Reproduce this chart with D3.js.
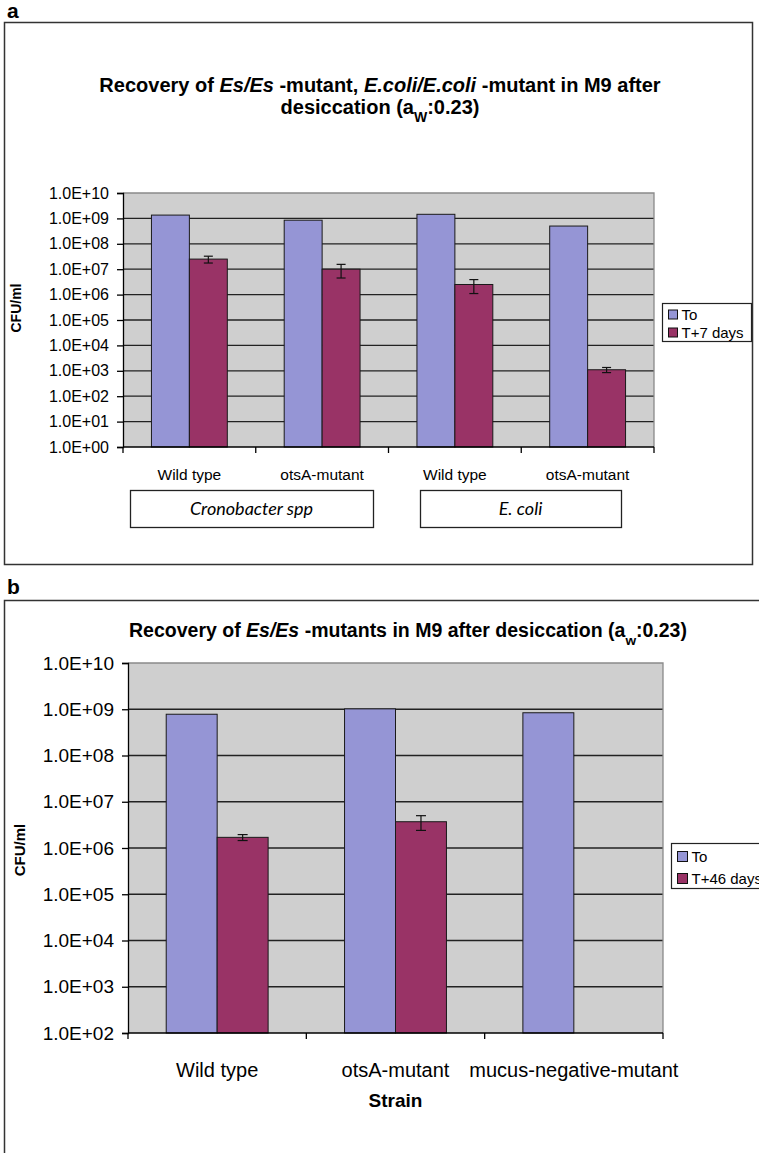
<!DOCTYPE html>
<html>
<head>
<meta charset="utf-8">
<script src="https://cdn.jsdelivr.net/npm/d3@7"></script>
<style>
  body { margin: 0; background: #fff; }
  svg { display: block; }
  text { font-family: "Liberation Sans", Arial, sans-serif; fill: #000; }
</style>
</head>
<body>
<svg id="fig" width="759" height="1153"></svg>
<script>
// ---- Panel a: Es/Es and E. coli strains, M9, 7 days ----
const strainsA = ["Wild type", "otsA-mutant", "Wild type ", "otsA-mutant "];
const seriesA = ["To", "T+7 days"];
const t0A = [1.35e9, 8.5e8, 1.45e9, 5.0e8];
const t7A = [2.5e7, 1.0e7, 2.5e6, 1.1e3];
const t7ErrA = [7.5e6, 5.5e6, 1.4e6, 2.5e2];
const groupsA = ["Cronobacter spp", "E. coli"];
const tickValsA = [1e0, 1e1, 1e2, 1e3, 1e4, 1e5, 1e6, 1e7, 1e8, 1e9, 1e10];
const tickLabelsA = ["1.0E+00", "1.0E+01", "1.0E+02", "1.0E+03", "1.0E+04", "1.0E+05",
                     "1.0E+06", "1.0E+07", "1.0E+08", "1.0E+09", "1.0E+10"];

// ---- Panel b: Es/Es mutants, M9, 46 days ----
const strainsB = ["Wild type", "otsA-mutant", "mucus-negative-mutant"];
const seriesB = ["To", "T+46 days"];
const t0B = [7.8e8, 1.02e9, 8.4e8];
const t46B = [1.7e6, 3.7e6, null];
const t46ErrB = [2.5e5, 1.3e6, null];
const tickValsB = [1e2, 1e3, 1e4, 1e5, 1e6, 1e7, 1e8, 1e9, 1e10];
const tickLabelsB = ["1.0E+02", "1.0E+03", "1.0E+04", "1.0E+05", "1.0E+06",
                     "1.0E+07", "1.0E+08", "1.0E+09", "1.0E+10"];

const COL_T0 = "#9595d5";
const COL_T1 = "#993366";
const PLOT_BG = "#cfcfcf";

const svg = d3.select("#fig");

function drawPanel(o) {
  const g = svg.append("g");

  // panel letter and frame
  g.append("text").attr("x", o.letterX).attr("y", o.letterY)
    .attr("font-size", 21).attr("font-weight", "bold").text(o.letter);
  g.append("rect").attr("x", o.frame[0]).attr("y", o.frame[1])
    .attr("width", o.frame[2]).attr("height", o.frame[3])
    .attr("fill", "none").attr("stroke", "#333").attr("stroke-width", 1.5);

  // title (with italic species names and subscript)
  o.titleLines.forEach((parts, i) => {
    const t = g.append("text").attr("x", o.titleX).attr("y", o.titleY + i * o.titleGap)
      .attr("text-anchor", "middle").attr("font-size", o.titleSize).attr("font-weight", "bold");
    parts.forEach(p => {
      const s = t.append("tspan").text(p.t);
      if (p.i) s.attr("font-style", "italic");
      if (p.sub) s.attr("baseline-shift", "sub").attr("font-size", o.titleSize * 0.7);
    });
  });

  const [L, R, T, B] = o.plot;
  const y = d3.scaleLog().domain(o.yDomain).range([B, T]);
  const x0 = d3.scaleBand().domain(o.strains).range([L, R]).padding(0);
  const x1 = d3.scaleBand().domain(o.series).range([0, x0.bandwidth()])
    .paddingInner(0).paddingOuter(0.75);

  // plot area
  g.append("rect").attr("x", L).attr("y", T).attr("width", R - L).attr("height", B - T)
    .attr("fill", PLOT_BG);
  g.append("g").selectAll("line").data(o.tickVals.slice(1, -1)).join("line")
    .attr("x1", L).attr("x2", R).attr("y1", d => y(d)).attr("y2", d => y(d))
    .attr("stroke", "#222").attr("stroke-width", 1.3);
  g.append("path").attr("d", `M${L},${T}H${R}V${B}`)
    .attr("fill", "none").attr("stroke", "#8a8a8a").attr("stroke-width", 1.3);

  // bars
  const rows = o.strains.map((s, i) => ({ s, v: [o.v0[i], o.v1[i]], e: o.err[i] }));
  const grp = g.append("g").selectAll("g").data(rows).join("g")
    .attr("transform", d => `translate(${x0(d.s)},0)`);
  grp.selectAll("rect").data(d => d.v.map((v, k) => ({ v, k })).filter(d => d.v != null))
    .join("rect")
    .attr("x", d => x1(o.series[d.k])).attr("width", x1.bandwidth())
    .attr("y", d => y(d.v)).attr("height", d => B - y(d.v))
    .attr("fill", d => d.k === 0 ? COL_T0 : COL_T1)
    .attr("stroke", "#1a1a1a").attr("stroke-width", 1);

  // error bars on the second series
  const eb = grp.filter(d => d.v[1] != null && d.e != null).append("g")
    .attr("stroke", "#111").attr("stroke-width", 1.2);
  const cx = x1(o.series[1]) + x1.bandwidth() / 2;
  eb.append("line").attr("x1", cx).attr("x2", cx)
    .attr("y1", d => y(d.v[1] + d.e)).attr("y2", d => y(d.v[1] - d.e));
  eb.append("line").attr("x1", cx - o.cap).attr("x2", cx + o.cap)
    .attr("y1", d => y(d.v[1] + d.e)).attr("y2", d => y(d.v[1] + d.e));
  eb.append("line").attr("x1", cx - o.cap).attr("x2", cx + o.cap)
    .attr("y1", d => y(d.v[1] - d.e)).attr("y2", d => y(d.v[1] - d.e));

  // y axis
  const yAxis = d3.axisLeft(y).tickValues(o.tickVals)
    .tickFormat((d, i) => o.tickLabels[i]).tickSize(6).tickPadding(8);
  const ya = g.append("g").attr("transform", `translate(${L},0)`).call(yAxis);
  ya.select(".domain").attr("stroke", "#000").attr("stroke-width", 1.3);
  ya.selectAll(".tick line").attr("stroke", "#000").attr("stroke-width", 1.3);
  ya.selectAll(".tick text").attr("font-size", o.tickSize)
    .attr("font-family", "'Liberation Sans', Arial, sans-serif").attr("fill", "#000");

  // x axis: ticks between categories
  const xa = g.append("g").attr("transform", `translate(0,${B})`);
  xa.append("line").attr("x1", L).attr("x2", R).attr("stroke", "#000").attr("stroke-width", 1.3);
  const edges = o.strains.map(s => x0(s)).concat([R]);
  xa.selectAll("line.t").data(edges).join("line").attr("class", "t")
    .attr("x1", d => d).attr("x2", d => d).attr("y1", 0).attr("y2", 6)
    .attr("stroke", "#000").attr("stroke-width", 1.3);
  xa.selectAll("text").data(o.strains).join("text")
    .attr("x", d => x0(d) + x0.bandwidth() / 2).attr("y", o.xLabelDy)
    .attr("text-anchor", "middle").attr("font-size", o.xLabelSize).text(d => d.trim());

  // y axis title
  g.append("text")
    .attr("transform", `translate(${o.yTitle[0]},${o.yTitle[1]}) rotate(-90)`)
    .attr("text-anchor", "middle").attr("font-size", o.yTitleSize).attr("font-weight", "bold")
    .text("CFU/ml");

  // legend
  const [lx, ly, lw, lh] = o.legend;
  const lg = g.append("g");
  lg.append("rect").attr("x", lx).attr("y", ly).attr("width", lw).attr("height", lh)
    .attr("fill", "#fff").attr("stroke", "#222").attr("stroke-width", 1.2);
  o.series.forEach((s, k) => {
    const yy = ly + o.legendRow0 + k * o.legendRowGap;
    lg.append("rect").attr("x", lx + 6).attr("y", yy - o.legendBox / 2)
      .attr("width", o.legendBox).attr("height", o.legendBox)
      .attr("fill", k === 0 ? COL_T0 : COL_T1).attr("stroke", "#111").attr("stroke-width", 1);
    lg.append("text").attr("x", lx + 10 + o.legendBox).attr("y", yy).attr("dy", "0.35em")
      .attr("font-size", o.legendSize).text(s);
  });

  return { g, x0, y };
}

// ---------- Panel a ----------
const pa = drawPanel({
  letter: "a", letterX: 7, letterY: 18,
  frame: [4.5, 22.5, 748, 542],
  titleX: 380, titleY: 92, titleGap: 22, titleSize: 20,
  titleLines: [
    [{ t: "Recovery of " }, { t: "Es/Es", i: true }, { t: " -mutant, " },
     { t: "E.coli/E.coli", i: true }, { t: " -mutant in M9 after" }],
    [{ t: "desiccation (a" }, { t: "W", sub: true }, { t: ":0.23)" }]
  ],
  plot: [123, 654, 193, 447],
  yDomain: [1, 1e10],
  strains: strainsA, series: seriesA,
  v0: t0A, v1: t7A, err: t7ErrA, cap: 4.5,
  tickVals: tickValsA, tickLabels: tickLabelsA, tickSize: 16,
  xLabelDy: 33, xLabelSize: 15.5,
  yTitle: [21, 308], yTitleSize: 14,
  legend: [662.5, 303.5, 89, 38], legendRow0: 11, legendRowGap: 18, legendBox: 9, legendSize: 15
});

// group boxes under the strain labels
const boxA = [[130, 373], [420, 621]];
groupsA.forEach((name, i) => {
  pa.g.append("rect").attr("x", boxA[i][0] + 0.5).attr("y", 490.5)
    .attr("width", boxA[i][1] - boxA[i][0]).attr("height", 37)
    .attr("fill", "#fff").attr("stroke", "#222").attr("stroke-width", 1.3);
  pa.g.append("text").attr("x", (boxA[i][0] + boxA[i][1]) / 2).attr("y", 509).attr("dy", "0.35em")
    .attr("text-anchor", "middle").attr("font-size", 18).attr("font-style", "italic")
    .style("font-family", "Lato, 'Open Sans', sans-serif").text(name);
});

// ---------- Panel b ----------
const pb = drawPanel({
  letter: "b", letterX: 7, letterY: 594,
  frame: [4.5, 600.5, 800, 600],
  titleX: 408, titleY: 637, titleGap: 0, titleSize: 19.5,
  titleLines: [
    [{ t: "Recovery of " }, { t: "Es/Es", i: true },
     { t: " -mutants in M9 after desiccation (a" }, { t: "w", sub: true }, { t: ":0.23)" }]
  ],
  plot: [128, 663, 663, 1033],
  yDomain: [1e2, 1e10],
  strains: strainsB, series: seriesB,
  v0: t0B, v1: t46B, err: t46ErrB, cap: 5,
  tickVals: tickValsB, tickLabels: tickLabelsB, tickSize: 19,
  xLabelDy: 44, xLabelSize: 20,
  yTitle: [25, 850], yTitleSize: 15,
  legend: [671.5, 843.5, 100, 45], legendRow0: 13, legendRowGap: 22, legendBox: 10, legendSize: 15
});

pb.g.append("text").attr("x", (128 + 663) / 2).attr("y", 1107)
  .attr("text-anchor", "middle").attr("font-size", 19).attr("font-weight", "bold").text("Strain");
</script>
</body>
</html>
